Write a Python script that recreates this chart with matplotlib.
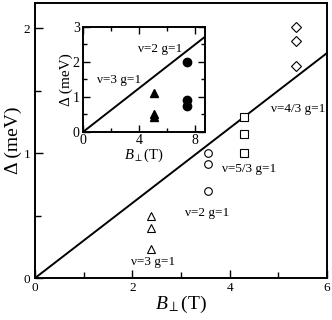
import matplotlib
matplotlib.use("Agg")
import matplotlib.pyplot as plt
import numpy as np

plt.rcParams['font.family'] = ['Liberation Serif', 'DejaVu Serif']
plt.rcParams['mathtext.fontset'] = 'custom'
plt.rcParams['mathtext.rm'] = 'Liberation Serif'
plt.rcParams['mathtext.it'] = 'Liberation Serif:italic'

# main panel data
tri_B = [2.38, 2.38, 2.38]
tri_D = [0.50, 0.40, 0.23]
circ_B = [3.55, 3.55, 3.55]
circ_D = [1.00, 0.91, 0.70]
sq_B = [4.29, 4.29, 4.29]
sq_D = [1.29, 1.15, 1.00]
dia_B = [5.36, 5.36, 5.36]
dia_D = [2.01, 1.90, 1.70]
slope_main = 0.30

# inset data
in_tri_B = [5.09, 5.09, 5.09]
in_tri_D = [1.10, 0.50, 0.42]
in_circ_B = [7.45, 7.45, 7.45]
in_circ_D = [2.00, 0.90, 0.74]
slope_inset = 0.31

fig = plt.figure(figsize=(3.32, 3.20), dpi=100)
ax = fig.add_axes([0.1054, 0.131, 0.985 - 0.1054, 0.9906 - 0.131])
ax.set_xlim(0, 6)
ax.set_ylim(0, 2.2)
xx = np.array([0, 6])
ax.plot(xx, slope_main * xx, color='black', lw=1.4)
ms = 5.5
ax.plot(tri_B, tri_D, ls='none', marker='^', mfc='white', mec='black', mew=0.8, ms=ms)
ax.plot(circ_B, circ_D, ls='none', marker='o', mfc='white', mec='black', mew=0.8, ms=ms)
ax.plot(sq_B, sq_D, ls='none', marker='s', mfc='white', mec='black', mew=0.8, ms=ms)
ax.plot(dia_B, dia_D, ls='none', marker='D', mfc='white', mec='black', mew=0.8, ms=ms - 0.5)

for s in ax.spines.values():
    s.set_linewidth(1.4)
ax.set_xticks([0, 2, 4, 6])
ax.set_xticks([1, 3, 5], minor=True)
ax.set_yticks([0, 1, 2])
ax.set_yticks([0.5, 1.5], minor=True)
ax.tick_params(which='both', direction='in', labelsize=9.5, width=1.0)
ax.tick_params(which='major', length=6)
ax.tick_params(which='minor', length=4)
ax.tick_params(axis='x', pad=3)
ax.set_xlabel(r'$B_{\perp}$(T)', fontsize=14, labelpad=0)
ax.set_ylabel('Δ (meV)', fontsize=14, labelpad=1)

fs = 9.5
ax.text(4.85, 1.35, 'ν=4/3 g=1', fontsize=fs, va='center')
ax.text(3.85, 0.87, 'ν=5/3 g=1', fontsize=fs, va='center')
ax.text(3.08, 0.52, 'ν=2 g=1', fontsize=fs, va='center')
ax.text(1.98, 0.13, 'ν=3 g=1', fontsize=fs, va='center')

# inset
axi = fig.add_axes([0.251, 0.5884, 0.6175 - 0.251, 0.9166 - 0.5884])
axi.set_xlim(0, 8.75)
axi.set_ylim(0, 3)
xi = np.array([0, 8.75])
axi.plot(xi, slope_inset * xi, color='black', lw=1.4)
axi.plot(in_tri_B, in_tri_D, ls='none', marker='^', color='black', ms=5.5)
axi.plot(in_circ_B, in_circ_D, ls='none', marker='o', color='black', ms=6)
for s in axi.spines.values():
    s.set_linewidth(1.4)
axi.set_xticks([0, 4, 8])
axi.set_xticks([2, 6], minor=True)
axi.set_yticks([0, 1, 2, 3])
axi.set_yticks([0.5, 1.5, 2.5], minor=True)
axi.tick_params(which='both', direction='in', top=True, right=True, labelsize=10, width=1.0, pad=1)
axi.tick_params(axis='y', pad=2.5)
axi.tick_params(axis='x', pad=1.5)
axi.tick_params(which='major', length=5)
axi.tick_params(which='minor', length=3)
axi.set_xlabel(r'$B_{\perp}$(T)', fontsize=10.5, labelpad=0)
axi.set_ylabel('Δ (meV)', fontsize=11, labelpad=0)
axi.text(3.95, 2.35, 'ν=2 g=1', fontsize=9.5, va='center')
axi.text(0.95, 1.48, 'ν=3 g=1', fontsize=9.5, va='center')

fig.savefig('out.png', dpi=100)
